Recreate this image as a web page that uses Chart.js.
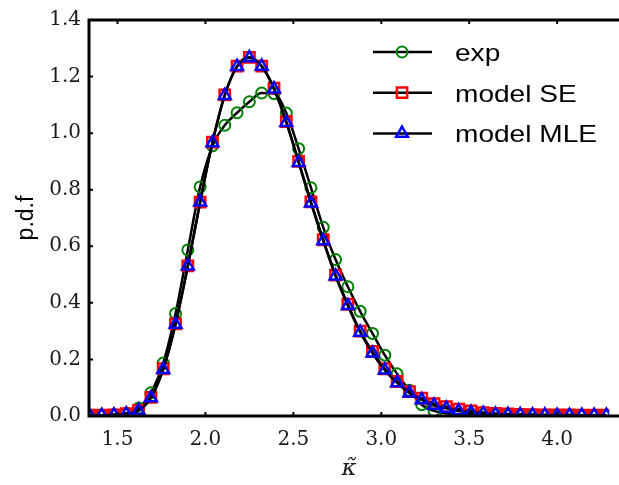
<!DOCTYPE html>
<html>
<head>
<meta charset="utf-8">
<script src="https://cdn.jsdelivr.net/npm/chart.js@4.4.0/dist/chart.umd.min.js"></script>
<style>
  html, body { margin: 0; padding: 0; background: #fff; }
  #wrap { width: 619px; height: 485px; }
</style>
</head>
<body>
<div id="wrap"><canvas id="pdf-chart" width="619" height="485"></canvas></div>
<script>
// Curvature values (x axis) shared by all three series
const kappa = [1.34, 1.41, 1.48, 1.55, 1.62, 1.69, 1.76, 1.83, 1.90, 1.97,
               2.04, 2.11, 2.18, 2.25, 2.32, 2.39, 2.46, 2.53, 2.60, 2.67,
               2.74, 2.81, 2.88, 2.95, 3.02, 3.09, 3.16, 3.23, 3.30, 3.37,
               3.44, 3.51, 3.58, 3.65, 3.72, 3.79, 3.86, 3.93, 4.00, 4.07,
               4.14, 4.21, 4.28];

// Experimental p.d.f
const expPdf = [0.002, 0.003, 0.005, 0.010, 0.028, 0.082, 0.187, 0.362, 0.587, 0.810,
                0.955, 1.028, 1.072, 1.111, 1.142, 1.140, 1.071, 0.945, 0.807, 0.667,
                0.553, 0.457, 0.370, 0.292, 0.215, 0.149, 0.091, 0.040, 0.018, 0.010,
                0.007, 0.006, 0.005, 0.005, 0.004, 0.004, 0.004, 0.003, 0.003, 0.003,
                0.003, 0.003, 0.003];

// Model fitted with SE
const seModel = [0.003, 0.003, 0.004, 0.008, 0.020, 0.066, 0.167, 0.326, 0.531, 0.756,
                 0.968, 1.135, 1.237, 1.268, 1.237, 1.159, 1.041, 0.900, 0.757, 0.623,
                 0.498, 0.395, 0.300, 0.228, 0.167, 0.122, 0.086, 0.063, 0.044, 0.033,
                 0.024, 0.018, 0.012, 0.009, 0.007, 0.006, 0.005, 0.004, 0.004, 0.004,
                 0.003, 0.003, 0.003];

// Model fitted with MLE
const mleModel = [0.002, 0.002, 0.003, 0.007, 0.019, 0.064, 0.164, 0.324, 0.530, 0.756,
                  0.966, 1.133, 1.235, 1.266, 1.236, 1.156, 1.037, 0.896, 0.753, 0.619,
                  0.495, 0.390, 0.296, 0.222, 0.162, 0.117, 0.081, 0.057, 0.038, 0.027,
                  0.018, 0.013, 0.009, 0.006, 0.005, 0.004, 0.003, 0.003, 0.002, 0.002,
                  0.002, 0.002, 0.002];

const xTicks = [1.5, 2.0, 2.5, 3.0, 3.5, 4.0];
const yTicks = [0.0, 0.2, 0.4, 0.6, 0.8, 1.0, 1.2, 1.4];

function toPoints(values) {
    return values.map((v, i) => ({ x: kappa[i], y: v }));
}

function series(label, values, style, radius, color, width, order) {
    return {
        label: label,
        data: toPoints(values),
        borderColor: '#000',
        borderWidth: 2.5,
        cubicInterpolationMode: 'monotone',
        pointStyle: style,
        pointRadius: radius,
        pointBorderColor: color,
        pointBackgroundColor: 'rgba(0,0,0,0)',
        pointBorderWidth: width,
        order: order
    };
}

// Axes frame (left, top, bottom) with inward ticks
const framePlugin = {
    id: 'frame',
    afterDatasetsDraw(chart) {
        const { ctx, chartArea: a, scales: { x, y } } = chart;
        ctx.save();
        ctx.strokeStyle = '#000';
        ctx.lineWidth = 3;
        ctx.beginPath();
        ctx.moveTo(chart.width, a.top);
        ctx.lineTo(a.left, a.top);
        ctx.lineTo(a.left, a.bottom);
        ctx.lineTo(chart.width, a.bottom);
        ctx.stroke();
        ctx.lineWidth = 2;
        ctx.beginPath();
        xTicks.forEach(v => {
            const px = x.getPixelForValue(v);
            ctx.moveTo(px, a.bottom); ctx.lineTo(px, a.bottom - 4);
            ctx.moveTo(px, a.top); ctx.lineTo(px, a.top + 4);
        });
        yTicks.forEach(v => {
            const py = y.getPixelForValue(v);
            ctx.moveTo(a.left, py); ctx.lineTo(a.left + 4, py);
        });
        ctx.stroke();
        ctx.restore();
    }
};

// Legend inside the plot: line with marker, then label
const legendPlugin = {
    id: 'innerLegend',
    afterDraw(chart) {
        const ctx = chart.ctx;
        const rows = ['exp', 'model SE', 'model MLE'];
        ctx.save();
        rows.forEach((name, i) => {
            const ds = chart.data.datasets.find(d => d.label === name);
            const cy = 52 + i * 40.7;
            ctx.strokeStyle = '#000';
            ctx.lineWidth = 2.5;
            ctx.beginPath();
            ctx.moveTo(373, cy);
            ctx.lineTo(432, cy);
            ctx.stroke();
            ctx.strokeStyle = ds.pointBorderColor;
            ctx.fillStyle = 'rgba(0,0,0,0)';
            ctx.lineWidth = ds.pointBorderWidth;
            Chart.helpers.drawPoint(ctx, {
                pointStyle: ds.pointStyle,
                radius: ds.pointRadius,
                borderWidth: ds.pointBorderWidth,
                rotation: 0
            }, 402, cy);
            ctx.save();
            ctx.translate(455, cy + 9);
            ctx.scale(1.17, 1);
            ctx.fillStyle = '#000';
            ctx.font = '24px "Liberation Sans", Arial, sans-serif';
            ctx.textBaseline = 'alphabetic';
            ctx.fillText(name, 0, 0);
            ctx.restore();
        });
        ctx.restore();
    }
};

const tickFont = { family: 'DejaVu Serif', size: 20 };

new Chart(document.getElementById('pdf-chart'), {
    type: 'line',
    data: {
        datasets: [
            series('exp', expPdf, 'circle', 5.5, '#008000', 2, 3),
            series('model SE', seModel, 'rect', 7.3, '#ff0000', 2.5, 2),
            series('model MLE', mleModel, 'triangle', 6.8, '#0000ff', 2.5, 1)
        ]
    },
    options: {
        responsive: false,
        animation: false,
        events: [],
        layout: { padding: { top: 15, right: 0, left: 0, bottom: 0 } },
        plugins: {
            legend: { display: false },
            tooltip: { enabled: false }
        },
        scales: {
            x: {
                type: 'linear',
                min: 1.338,
                max: 4.296,
                grid: { display: false, drawTicks: false },
                border: { display: false },
                afterBuildTicks: s => { s.ticks = xTicks.map(v => ({ value: v })); },
                afterFit: s => { s.height = 69; },
                ticks: {
                    padding: 12,
                    font: tickFont,
                    color: '#1a1a1a',
                    maxRotation: 0,
                    autoSkip: false,
                    callback: v => v.toFixed(1)
                },
                title: {
                    display: true,
                    text: 'κ\u0303',
                    color: '#1a1a1a',
                    font: { family: 'DejaVu Serif', style: 'italic', size: 23 },
                    padding: { top: 0, bottom: 2 }
                }
            },
            y: {
                type: 'linear',
                min: 0,
                max: 1.4,
                grid: { display: false, drawTicks: false },
                border: { display: false },
                afterBuildTicks: s => { s.ticks = yTicks.map(v => ({ value: v })); },
                afterFit: s => { s.width = 89; },
                ticks: {
                    padding: 8,
                    font: tickFont,
                    color: '#1a1a1a',
                    autoSkip: false,
                    callback: v => v.toFixed(1)
                },
                title: {
                    display: true,
                    text: 'p.d.f',
                    color: '#000',
                    font: { family: 'Liberation Sans', size: 23 },
                    padding: { top: 13, bottom: 0 }
                }
            }
        }
    },
    plugins: [framePlugin, legendPlugin]
});
</script>
</body>
</html>
